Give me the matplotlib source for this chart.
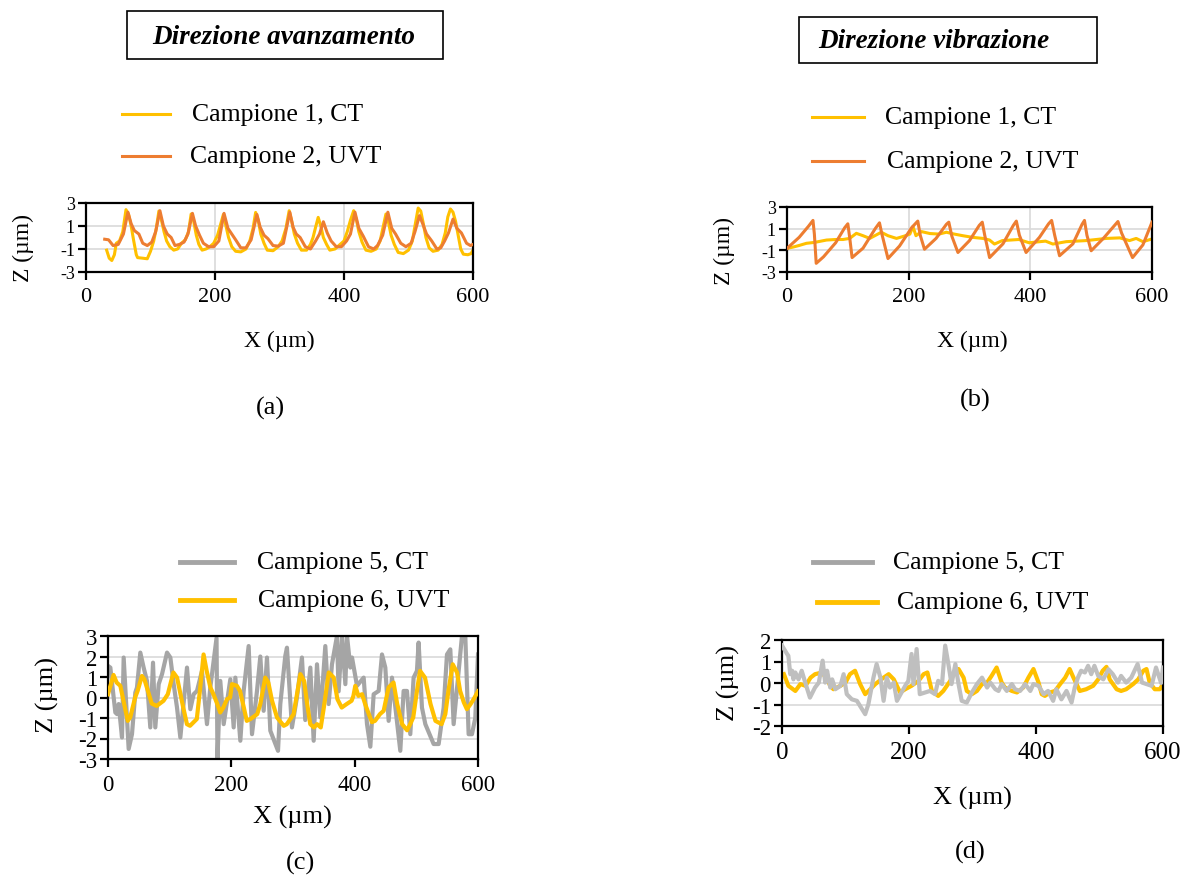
import matplotlib
matplotlib.use("Agg")
import matplotlib.pyplot as plt
from matplotlib.patches import Rectangle
from matplotlib.lines import Line2D

plt.rcParams['font.family'] = ['Liberation Serif', 'DejaVu Serif']

W, H = 1192, 879

YELLOW = '#FFC000'
ORANGE = '#ED7D31'
GRAY = '#A5A5A5'
GRAY_D = '#BFBFBF'
GRID = '#D9D9D9'

# ---- (a) feed direction ----
a_ct_x = [32, 36, 40, 44, 47, 52, 57, 62, 66, 70, 74, 78, 80, 88, 95, 100, 105, 109, 113, 117,
          121, 125, 130, 136, 142, 148, 154, 159, 163, 167, 171, 175, 180, 186, 192, 198, 204,
          209, 213, 217, 221, 226, 232, 240, 248, 254, 259, 263, 267, 271, 276, 281, 290, 298,
          304, 310, 315, 319, 323, 328, 334, 342, 348, 352, 356, 360, 364, 368, 373, 378, 386,
          394, 400, 405, 410, 415, 419, 423, 428, 434, 442, 450, 456, 461, 465, 469, 473, 478,
          484, 492, 500, 506, 510, 515, 519, 523, 527, 532, 538, 546, 552, 557, 561, 565, 569,
          573, 577, 581, 585, 592, 597, 600]
a_ct_z = [-1.1, -1.8, -2.0, -1.5, -0.5, -0.3, 0.5, 2.42, 2.0, 1.0, -0.3, -1.5, -1.75, -1.8, -1.85,
          -1.2, -0.3, 0.8, 2.3, 1.5, 0.5, -0.3, -0.8, -1.1, -1.0, -0.5, -0.2, 0.5, 2.04, 1.4, 0.2,
          -0.6, -1.1, -1.0, -0.8, -0.5, 0.2, 1.2, 2.0, 1.0, 0.0, -0.8, -1.2, -1.25, -1.0, -0.3,
          0.8, 2.18, 1.5, 0.3, -0.5, -1.1, -1.15, -0.8, -0.3, 0.8, 2.33, 1.4, 0.3, -0.5, -1.1,
          -1.1, -0.6, 0.0, 0.9, 1.75, 1.0, 0.0, -0.6, -1.1, -1.0, -0.6, -0.3, 0.5, 1.5, 2.33,
          1.6, 0.5, -0.4, -1.1, -1.2, -1.0, -0.3, 1.0, 2.04, 1.3, 0.2, -0.6, -1.3, -1.4, -1.1,
          -0.3, 1.0, 2.56, 2.3, 1.2, 0.0, -0.9, -1.2, -1.1, -0.6, 0.4, 1.8, 2.48, 2.2, 1.4, 0.2,
          -1.0, -1.45, -1.5, -1.4, -1.1]

a_uvt_x = [29, 35, 42, 50, 58, 65, 70, 75, 82, 88, 95, 102, 108, 114.6, 120, 126, 132, 138, 145,
           152, 158, 165, 170, 176, 182, 190, 198, 206, 214, 220, 226, 232, 240, 248, 256, 265,
           270, 276, 282, 290, 298, 306, 316, 321, 326, 332, 340, 348, 356, 362, 368, 374, 380,
           388, 396, 404, 410, 417, 423, 430, 438, 446, 452, 460, 468, 474, 480, 488, 496, 504,
           510, 517, 522, 528, 536, 544, 550, 556, 562, 569, 575, 582, 590, 596, 600]
a_uvt_z = [-0.15, -0.2, -0.7, -0.6, 0.3, 2.2, 1.2, 0.6, 0.3, -0.5, -0.7, -0.4, 0.5, 2.33, 1.0,
           0.3, 0.0, -0.7, -0.6, -0.4, 0.3, 2.1, 1.0, 0.2, -0.5, -0.8, -0.8, -0.3, 2.1, 0.8, 0.3,
           -0.2, -0.9, -0.9, -0.2, 2.0, 0.9, 0.2, -0.1, -0.7, -0.75, -0.5, 2.2, 0.9, 0.3, 0.0,
           -0.8, -1.0, -0.3, 0.3, 1.37, 0.4, -0.3, -0.8, -0.8, -0.3, 0.3, 2.2, 0.8, 0.1, -0.8,
           -1.0, -0.7, 0.2, 2.2, 0.8, 0.3, -0.5, -0.8, -0.5, 0.5, 1.9, 1.2, 0.3, -0.3, -1.0,
           -0.9, -0.3, 0.4, 1.6, 0.8, 0.4, -0.5, -0.7, -0.6]

# ---- (b) vibration direction ----
b_ct_x = [0, 10, 20, 32, 45, 65, 80, 92, 103, 114, 125, 136, 146, 155, 166, 180, 192, 202, 207,
          212, 221, 235, 250, 262, 275, 289, 305, 322, 333, 341, 354, 381, 398, 425, 437, 459,
          492, 525, 547, 563, 574, 585, 600]
b_ct_z = [-0.82, -0.7, -0.55, -0.35, -0.27, -0.05, 0.0, 0.0, 0.1, 0.57, 0.35, 0.1, 0.4, 0.67,
          0.35, 0.1, 0.3, 0.5, 1.2, 0.35, 0.73, 0.55, 0.5, 0.67, 0.5, 0.35, 0.2, 0.1, -0.05,
          -0.42, -0.1, 0.0, -0.3, -0.15, -0.42, -0.2, -0.1, 0.1, 0.15, -0.1, 0.1, -0.2, 0.05]

b_uvt_x = [0, 20, 35, 42.7, 45, 48, 60, 80, 95, 100, 103, 107, 125, 145, 152, 156, 166, 185,
           205, 215, 219, 226, 245, 262, 266, 271, 281, 300, 316, 321, 325, 333, 355, 372, 377,
           382, 393, 415, 430, 435, 440, 448, 470, 485, 489, 493, 500, 520, 540, 544, 550, 568,
           585, 600]
b_uvt_z = [-0.82, 0.2, 1.2, 1.76, 0.5, -2.2, -1.6, -0.3, 1.1, 1.45, 0.2, -1.67, -0.8, 1.0, 1.54,
           0.5, -1.76, -0.6, 1.1, 1.7, 0.4, -0.9, 0.1, 1.4, 1.6, 0.3, -1.2, -0.1, 1.3, 1.6, 0.4,
           -1.67, -0.4, 1.3, 1.7, 0.4, -1.2, 0.2, 1.45, 1.76, 0.4, -1.5, -0.4, 1.4, 1.76, 0.4,
           -1.04, 0.1, 1.4, 1.66, 0.6, -1.67, -0.5, 1.6]

# ---- (c) ----
c_ct_x = [0, 3.8, 11.9, 14.6, 17.3, 22.7, 25.4, 33.5, 38.9, 44.3, 47.0, 52.4, 57.8, 63.2, 68.6,
          73.0, 76.7, 82.2, 87.6, 95.7, 101.1, 106.5, 111.9, 117.3, 128.1, 133.5, 138.9, 144.3,
          152.4, 160.5, 165.9, 176.0, 177.5, 182.1, 187.6, 198.4, 203.8, 206.5, 214.6, 220.0,
          228.1, 233.5, 241.6, 247.0, 252.4, 257.8, 263.2, 275.7, 279.4, 287.5, 290.2, 298.3,
          306.4, 314.5, 319.9, 328.1, 333.5, 338.9, 344.3, 352.4, 357.8, 363.2, 371.3, 374.0,
          379.5, 384.9, 387.6, 393.0, 395.7, 403.8, 414.6, 420.0, 425.4, 430.8, 438.9, 444.3,
          449.7, 455.1, 460.5, 474.0, 479.4, 484.8, 490.2, 495.6, 501.0, 503.7, 509.1, 514.6,
          528.1, 536.2, 544.3, 549.7, 555.1, 560.5, 574.0, 579.4, 584.8, 590.2, 595.6, 600]
c_ct_z = [1.54, 1.46, -0.73, -0.81, -0.32, -1.95, 1.95, -2.51, -1.79, 0.24, 0.49, 2.19, 1.46,
          0.81, -1.46, 1.7, -1.46, 0.65, 1.14, 2.19, 1.95, 0.65, -0.49, -1.95, 1.46, -0.57, 0.16,
          0.32, 1.3, -1.3, 0.49, 2.9, -3.0, 0.81, -1.3, 0.89, -1.46, 0.97, -2.11, 0.32, 2.51,
          -1.79, 0.32, 2.0, -0.65, 1.95, -1.62, -2.6, -0.32, 2.03, 2.43, -1.46, 0.0, 1.95, -1.1,
          1.46, -2.11, 1.62, -0.97, 2.51, -0.32, 1.62, 3.0, 0.3, 3.0, 0.65, 3.0, 1.46, 1.95, 0.57,
          0.97, -1.3, -2.4, 0.16, 0.32, 2.1, 1.46, -1.14, 0.97, -2.6, 0.32, 0.32, -1.79, 0.97,
          1.3, 2.68, -0.49, -1.3, -2.27, -2.27, -0.49, 2.1, 2.35, -1.3, 3.0, 3.0, -1.79, -1.79,
          -1.0, 2.1]

c_uvt_x = [0, 9, 14, 20, 32, 36, 44, 48, 55, 59, 63, 71, 79, 90, 97, 106, 112, 122, 128, 133,
           144, 149, 155, 160, 166, 171, 177, 182, 187, 193, 198, 201, 209, 214, 219, 225, 231,
           242, 247, 255, 260, 266, 274, 285, 290, 301, 312, 318, 323, 328, 334, 339, 345, 350,
           358, 366, 372, 379, 387, 395, 398, 401, 406, 412, 417, 423, 428, 433, 441, 447, 455,
           463, 469, 477, 485, 490, 495, 501, 506, 514, 523, 531, 541, 547, 552, 559, 566, 571,
           577, 582, 588, 593, 600]
c_uvt_z = [0.16, 1.1, 0.73, 0.57, -1.14, -0.97, 0.0, 0.32, 1.05, 0.89, 0.49, -0.3, -0.41, -0.16,
           0.16, 1.22, 0.97, -0.49, -1.3, -1.38, -1.05, 0.32, 2.1, 1.3, 0.49, 0.16, -0.3, -0.73,
           -0.49, -0.08, 0.0, 0.65, 0.57, 0.32, -0.32, -1.14, -1.05, -0.81, -0.32, 0.97, 0.73,
           -0.16, -0.97, -1.38, -1.3, -0.81, 1.14, 0.81, -0.32, -1.3, -1.46, -1.3, -1.46, -0.49,
           1.22, 0.97, -0.08, -0.49, -0.32, -0.16, 0.08, 0.57, 0.08, 0.16, -0.32, -0.81, -1.2,
           -1.14, -0.81, -0.65, 0.49, 0.73, -0.32, -1.3, -1.6, -1.3, -0.97, 0.32, 1.3, 0.97,
           -0.32, -1.14, -1.3, -0.81, 0.32, 1.62, 1.22, 0.32, -0.24, -0.57, -0.32, -0.08, 0.3]

# ---- (d) ----
d_ct_x = [0, 8, 10, 13, 16, 18, 21, 26, 31, 39, 44, 52, 58, 64, 68, 71, 76, 79, 84, 92, 97,
          102, 110, 118, 123, 131, 136, 144, 149, 155, 160, 165, 170, 176, 181, 194, 199, 204,
          207, 212, 217, 233, 241, 246, 252, 257, 262, 267, 273, 278, 283, 291, 299, 307, 315,
          323, 328, 336, 341, 346, 354, 362, 367, 375, 383, 391, 396, 404, 412, 419, 427, 432,
          440, 448, 456, 461, 466, 471, 477, 482, 487, 492, 498, 506, 514, 521, 529, 534, 542,
          550, 560, 567, 574, 582, 589, 597, 600]
d_ct_z = [1.74, 1.35, 1.27, 0.41, 0.57, 0.17, 0.49, 0.17, 0.57, -0.21, -0.68, -0.21, 0.02, 1.04,
          0.02, 0.57, -0.21, 0.17, -0.29, -0.13, 0.41, -0.52, -0.76, -0.83, -1.07, -1.45, -0.99,
          0.25, 0.88, 0.25, -0.83, 0.25, -0.21, 0.02, -0.83, -0.13, 0.1, 1.35, -0.05, 1.58,
          -0.52, -0.37, -0.52, 0.1, -0.05, 1.74, 0.88, -0.05, 0.88, -0.05, -0.83, -0.91, -0.44,
          -0.05, 0.25, -0.21, 0.02, -0.29, -0.37, -0.05, -0.37, -0.05, -0.29, -0.37, -0.05,
          -0.37, -0.05, -0.13, -0.52, -0.37, -0.83, -0.29, -0.76, -0.37, -0.91, -0.21, 0.25,
          0.57, 0.49, 0.8, 0.41, 0.8, 0.33, 0.17, 0.64, 0.41, 0.02, 0.33, 0.02, 0.25, 0.88,
          0.02, -0.05, -0.13, 0.72, -0.0, 0.72]

d_uvt_x = [3, 10, 21, 29, 37, 45, 52, 63, 71, 76, 81, 92, 100, 107, 115, 123, 131, 139, 147, 160,
           168, 176, 186, 194, 204, 215, 223, 229, 236, 246, 254, 265, 270, 278, 286, 291, 299,
           307, 315, 323, 330, 338, 346, 351, 362, 370, 380, 388, 396, 404, 409, 414, 422, 430,
           438, 446, 453, 459, 469, 479, 490, 498, 505, 511, 516, 527, 534, 542, 553, 561, 569,
           574, 579, 587, 595, 600]
d_uvt_z = [0.41, -0.13, -0.37, -0.05, -0.13, 0.25, 0.41, 0.49, 0.17, -0.13, -0.29, -0.13, 0.02,
           0.41, 0.57, -0.05, -0.52, -0.29, -0.05, 0.25, 0.41, 0.17, -0.44, -0.29, -0.13, 0.1,
           0.41, 0.49, -0.37, -0.6, -0.37, 0.1, 0.41, 0.65, 0.25, -0.37, -0.52, -0.37, -0.05,
           0.02, 0.33, 0.72, 0.02, -0.21, -0.37, -0.44, -0.21, 0.25, 0.65, 0.02, -0.52, -0.6,
           -0.44, -0.37, -0.05, 0.25, 0.65, 0.25, -0.37, -0.29, -0.13, 0.17, 0.57, 0.75, 0.17,
           -0.29, -0.37, -0.29, -0.05, 0.17, 0.57, 0.65, 0.02, -0.29, -0.29, -0.05]

fig = plt.figure(figsize=(W / 100, H / 100), dpi=100)


def fpos(px, py):
    return px / W, 1 - py / H


def make_axes(left, top, right, bottom):
    return fig.add_axes([left / W, 1 - bottom / H, (right - left) / W, (bottom - top) / H])


def style(ax, yticks, xfs, yfs, vgrid, lw_spine=1.6):
    ax.set_xlim(0, 600)
    ax.set_ylim(yticks[0], yticks[-1])
    ax.set_xticks([0, 200, 400, 600])
    ax.set_yticks(yticks)
    ax.set_yticklabels([str(t) for t in yticks])
    ax.tick_params(axis='x', labelsize=xfs, direction='out', length=6, width=1.6, pad=5)
    ax.tick_params(axis='y', labelsize=yfs, direction='out', length=6, width=1.6, pad=2)
    for s in ax.spines.values():
        s.set_linewidth(lw_spine)
        s.set_color('black')
    for t in yticks[1:-1]:
        ax.axhline(t, color=GRID, lw=1.2, zorder=0)
    if vgrid:
        for v in (200, 400):
            ax.axvline(v, color=GRID, lw=1.2, zorder=0)


def label(px, py, s, fs, **kw):
    x, y = fpos(px, py)
    fig.text(x, y, s, fontsize=fs, ha=kw.pop('ha', 'center'), va=kw.pop('va', 'center'), **kw)


def legend_entry(x0, x1, y, color, lw, tx, text, fs=18.5):
    a, b = fpos(x0, y)
    c, _ = fpos(x1, y)
    fig.add_artist(Line2D([a, c], [b, b], color=color, lw=lw, transform=fig.transFigure))
    label(tx, y, text, fs, ha='left')


def title_box(x0, y0, x1, y1, text, tx, ha):
    a, b = fpos(x0, y1)
    fig.add_artist(Rectangle((a, b), (x1 - x0) / W, (y1 - y0) / H, fill=False,
                             edgecolor='black', lw=1.2, transform=fig.transFigure))
    label(tx, (y0 + y1) / 2 + 1, text, 19.5, ha=ha, fontweight='bold', fontstyle='italic')


# panel (a)
ax_a = make_axes(86, 204, 473, 273)
ax_a.plot(a_ct_x, a_ct_z, color=YELLOW, lw=2.2, zorder=2)
ax_a.plot(a_uvt_x, a_uvt_z, color=ORANGE, lw=2.2, zorder=3)
style(ax_a, [-3, -1, 1, 3], 16, 13, True)
label(23, 248, 'Z (µm)', 17, rotation=90)
label(279, 341, 'X (µm)', 17)
label(270, 408, '(a)', 19)
title_box(127, 12, 443, 60, 'Direzione avanzamento', 284, 'center')
legend_entry(122, 170, 115, YELLOW, 2.2, 192, 'Campione 1, CT')
legend_entry(122, 170, 157, ORANGE, 2.2, 190, 'Campione 2, UVT')

# panel (b)
ax_b = make_axes(787, 208, 1152, 273)
ax_b.plot(b_ct_x, b_ct_z, color=YELLOW, lw=2.2, zorder=2)
ax_b.plot(b_uvt_x, b_uvt_z, color=ORANGE, lw=2.2, zorder=3)
style(ax_b, [-3, -1, 1, 3], 16, 13, True)
label(724, 251, 'Z (µm)', 17, rotation=90)
label(972, 341, 'X (µm)', 17)
label(975, 400, '(b)', 19)
title_box(799, 18, 1097, 64, 'Direzione vibrazione', 818, 'left')
legend_entry(812, 864, 118, YELLOW, 2.2, 885, 'Campione 1, CT')
legend_entry(812, 864, 162, ORANGE, 2.2, 887, 'Campione 2, UVT')

# panel (c)
ax_c = make_axes(108, 637, 478, 760)
ax_c.plot(c_ct_x, c_ct_z, color=GRAY, lw=3.0, zorder=2)
ax_c.plot(c_uvt_x, c_uvt_z, color=YELLOW, lw=3.0, zorder=3)
style(ax_c, [-3, -2, -1, 0, 1, 2, 3], 16.5, 16.5, False)
label(47, 695, 'Z (µm)', 19, rotation=90)
label(292, 817, 'X (µm)', 19)
label(300, 863, '(c)', 19)
legend_entry(180, 234, 563, GRAY, 3.5, 257, 'Campione 5, CT')
legend_entry(180, 234, 601, YELLOW, 3.5, 258, 'Campione 6, UVT')

# panel (d)
ax_d = make_axes(782, 641, 1163, 727)
ax_d.plot(d_uvt_x, d_uvt_z, color=YELLOW, lw=3.0, zorder=2)
ax_d.plot(d_ct_x, d_ct_z, color=GRAY_D, lw=3.0, zorder=3)
style(ax_d, [-2, -1, 0, 1, 2], 18, 16.5, False)
label(728, 683, 'Z (µm)', 19, rotation=90)
label(972, 798, 'X (µm)', 19)
label(970, 852, '(d)', 19)
legend_entry(813, 872, 563, GRAY, 3.5, 893, 'Campione 5, CT')
legend_entry(817, 877, 603, YELLOW, 3.5, 897, 'Campione 6, UVT')

fig.savefig('out.png', dpi=100)
